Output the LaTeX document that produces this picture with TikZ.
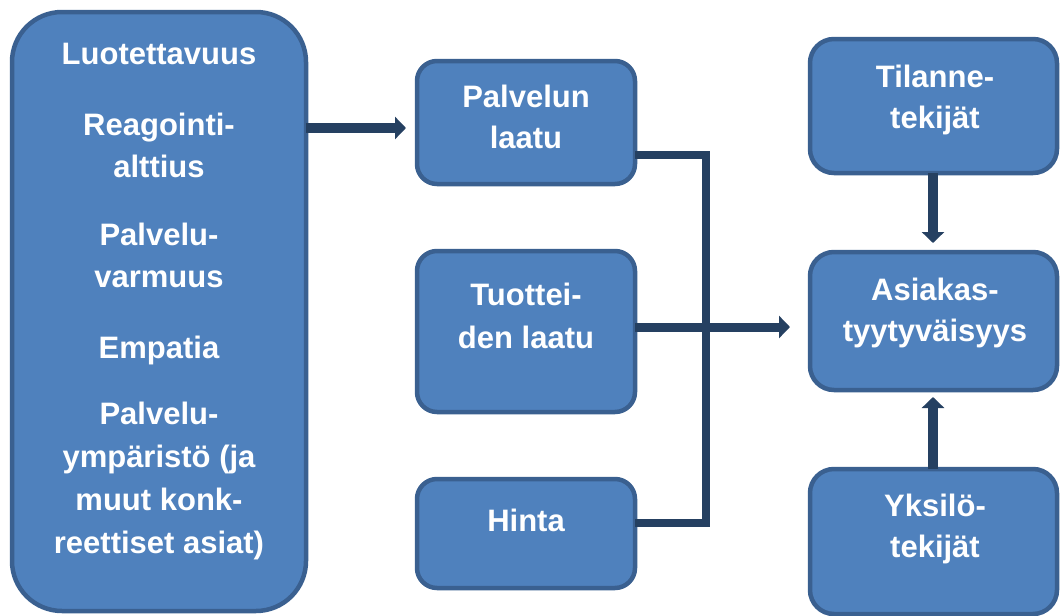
\documentclass[tikz,border=0pt]{standalone}
\usepackage{fontspec}
\setmainfont{Liberation Sans}
\usetikzlibrary{arrows.meta}
\definecolor{boxfill}{HTML}{4F81BD}
\definecolor{boxline}{HTML}{3A6090}
\definecolor{conncol}{HTML}{254061}
\begin{document}
\begin{tikzpicture}[x=1pt,y=-1pt,
  box/.style={draw=boxline, fill=boxfill, line width=4.5pt, outer sep=0pt, inner sep=0pt},
  lbl/.style={text=white, font=\bfseries\fontsize{31}{41.5}\selectfont, align=center, anchor=base, inner sep=0pt},
  arr/.style={draw=conncol, line width=10pt, -{Triangle[width=22pt,length=11pt]}},
  brk/.style={draw=conncol, line width=8pt, line join=miter}]
\useasboundingbox (0,0) rectangle (1061,616);
% boxes
\node[box, rounded corners=50pt, minimum width=294pt, minimum height=599pt] (L) at (159,311.5) {};
\node[box, rounded corners=20pt, minimum width=218pt, minimum height=123pt] (P) at (526,122.5) {};
\node[box, rounded corners=20pt, minimum width=218pt, minimum height=161pt] (T) at (526,331.5) {};
\node[box, rounded corners=20pt, minimum width=218pt, minimum height=109pt] (H) at (526,533.5) {};
\node[box, rounded corners=24pt, minimum width=247pt, minimum height=134pt] (Ti) at (933.5,106) {};
\node[box, rounded corners=24pt, minimum width=247pt, minimum height=138pt] (A) at (933.5,321) {};
\node[box, rounded corners=24pt, minimum width=247pt, minimum height=145pt] (Y) at (933.5,541.5) {};
% texts (multi-line nodes: base = last line)
\node[lbl] (tL1) at (159,64) {Luotettavuus};
\node[lbl] (tL2) at (159,177) {Reagointi-\\alttius};
\node[lbl] (tL3) at (159,287) {Palvelu-\\varmuus};
\node[lbl] (tL4) at (159,358) {Empatia};
\node[lbl, font=\bfseries\fontsize{31}{43}\selectfont] (tL5) at (159,553) {Palvelu-\\ympäristö (ja\\muut konk-\\reettiset asiat)};
\node[lbl, font=\bfseries\fontsize{31}{40.5}\selectfont] (tP) at (526,148) {Palvelun\\laatu};
\node[lbl, font=\bfseries\fontsize{31}{42.5}\selectfont] (tT) at (526,348) {Tuottei-\\den laatu};
\node[lbl] (tH) at (526,531) {Hinta};
\node[lbl, font=\bfseries\fontsize{31}{40.5}\selectfont] (tTi) at (935,128) {Tilanne-\\tekijät};
\node[lbl, font=\bfseries\fontsize{31}{40.5}\selectfont] (tA) at (935,341) {Asiakas-\\tyytyväisyys};
\node[lbl, font=\bfseries\fontsize{31}{40.5}\selectfont] (tY) at (935,557) {Yksilö-\\tekijät};
% connectors
\coordinate (a1) at (0,128);
\coordinate (j1) at (705.5,155);
\coordinate (j2) at (705.5,523);
\coordinate (m) at (0,327);
\coordinate (v) at (933,0);
\draw[arr, shorten >=11pt] (L.east |- a1) -- (P.west |- a1);
\draw[brk] (P.east |- j1) -- (j1) -- (j2) -- (H.east |- j2);
\draw[arr, line width=9pt, shorten >=20pt] (T.east |- m) -- (A.west |- m);
\draw[arr, shorten >=9pt] (Ti.south -| v) -- (A.north -| v);
\draw[arr, shorten >=7pt] (Y.north -| v) -- (A.south -| v);
\end{tikzpicture}
\end{document}
